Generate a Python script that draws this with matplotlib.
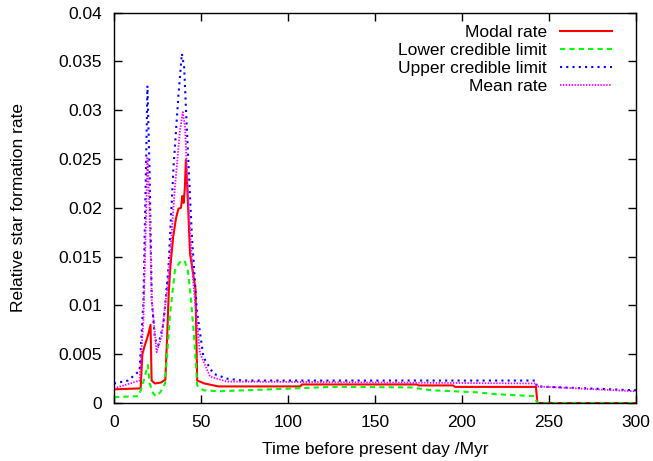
#!/usr/bin/env python3
"""Relative star formation rate history with credible limits (gnuplot-style)."""

import matplotlib

matplotlib.use("Agg")
import matplotlib.pyplot as plt

# modal rate
modal_t = [0, 15.3, 16.3, 17.5, 19.5, 21.0, 21.6, 23.5, 27.0, 29.5, 30.6, 31.5,
           32.5, 34.0, 35.5, 37.0, 38.5, 39.3, 40.0, 40.7, 41.3, 42.1, 43.7,
           46.8, 47.8, 52.0, 60.0, 107.0, 108.0, 174.0, 175.0, 195.0, 196.0,
           242.5, 243.3, 300.0]
modal_v = [0.0014, 0.0015, 0.0050, 0.0058, 0.0069, 0.0080, 0.0023, 0.0020,
           0.0021, 0.0024, 0.0071, 0.0115, 0.0142, 0.0170, 0.0188, 0.0199,
           0.0200, 0.0212, 0.0205, 0.0220, 0.0249, 0.0221, 0.0153, 0.0117,
           0.0023, 0.0020, 0.0017, 0.0017, 0.0019, 0.0019, 0.0018, 0.0018,
           0.00165, 0.00165, 0.0, 0.0]

# lower credible limit
lower_t = [0, 14.0, 16.0, 18.4, 19.5, 20.5, 22.5, 24.0, 26.6, 29.3, 30.7, 32.2,
           35.0, 37.7, 40.5, 42.4, 44.3, 46.3, 47.8, 51.4, 60.0, 90.0, 125.0,
           170.0, 183.0, 208.0, 220.0, 241.5, 243.3, 300.0]
lower_v = [0.0006, 0.0007, 0.0016, 0.0032, 0.0039, 0.0020, 0.0010, 0.0007,
           0.0011, 0.0020, 0.0054, 0.0091, 0.0136, 0.0144, 0.0146, 0.0136,
           0.0105, 0.0061, 0.0018, 0.0013, 0.0012, 0.0014, 0.00165, 0.0016,
           0.0013, 0.0011, 0.0009, 0.0007, 0.0, 0.0]

# upper credible limit
upper_t = [0, 8.0, 14.7, 16.9, 18.4, 19.2, 20.4, 21.7, 23.5, 25.4, 28.4, 31.3,
           34.2, 37.1, 39.0, 40.3, 41.8, 44.7, 47.6, 51.4, 57.1, 64.8, 74.0,
           242.3, 243.0, 300.0]
upper_v = [0.0020, 0.0023, 0.0033, 0.0105, 0.0242, 0.0325, 0.0240, 0.0105,
           0.0066, 0.0059, 0.0081, 0.0139, 0.0242, 0.0317, 0.0358, 0.0344,
           0.0283, 0.0173, 0.0095, 0.0047, 0.0030, 0.0025, 0.0023, 0.0023,
           0.0017, 0.0013]

# mean rate
mean_t = [0, 14.7, 16.9, 18.4, 19.2, 20.4, 21.7, 24.5, 27.3, 31.3, 35.0, 37.9,
          39.5, 40.8, 42.7, 45.6, 49.4, 55.2, 64.8, 242.3, 243.0, 300.0]
mean_v = [0.0015, 0.0023, 0.0085, 0.0190, 0.0252, 0.0200, 0.0105, 0.0052,
          0.0068, 0.0129, 0.0221, 0.0279, 0.0298, 0.0283, 0.0207, 0.0122,
          0.0051, 0.0027, 0.0022, 0.0020, 0.0017, 0.0012]

x_ticks = [0, 50, 100, 150, 200, 250, 300]
y_ticks = [0, 0.005, 0.01, 0.015, 0.02, 0.025, 0.03, 0.035, 0.04]
y_labels = ["0", "0.005", "0.01", "0.015", "0.02", "0.025", "0.03", "0.035", "0.04"]

FS = 12.5
plt.rcParams["font.family"] = ["Liberation Sans", "DejaVu Sans"]
plt.rcParams["font.size"] = FS

fig = plt.figure(figsize=(6.53, 4.61), dpi=100)
ax = fig.add_axes([0.1746, 0.1258, 0.7994, 0.847])

ax.plot(modal_t, modal_v, color="#ff0000", lw=1.5, label="Modal rate")
ax.plot(lower_t, lower_v, color="#00ff00", lw=1.5, ls=(0, (2.5, 2)),
        label="Lower credible limit")
ax.plot(upper_t, upper_v, color="#0000ff", lw=1.5, ls=(0, (1, 2)),
        label="Upper credible limit")
ax.plot(mean_t, mean_v, color="#ff00ff", lw=1.3, ls=(0, (0.8, 0.8)),
        label="Mean rate")

ax.set_xlim(0, 300)
ax.set_ylim(0, 0.04)
ax.set_xticks(x_ticks)
ax.set_yticks(y_ticks)
ax.set_yticklabels(y_labels)
ax.tick_params(direction="in", top=True, right=True, length=6, width=1,
               labelsize=FS, pad=8.5)
for spine in ax.spines.values():
    spine.set_linewidth(1)

ax.set_xlabel("Time before present day /Myr", fontsize=FS)
ax.set_ylabel("Relative star formation rate", fontsize=FS)
ax.xaxis.set_label_coords(0.5, -0.1)
ax.yaxis.set_label_coords(-0.168, 0.5)

ax.legend(loc="upper right", bbox_to_anchor=(0.954, 0.968), frameon=False,
          markerfirst=False, handlelength=3.0, labelspacing=0.16,
          handletextpad=0.75, borderpad=0, borderaxespad=0, fontsize=FS)

fig.savefig("out.png", dpi=100)
